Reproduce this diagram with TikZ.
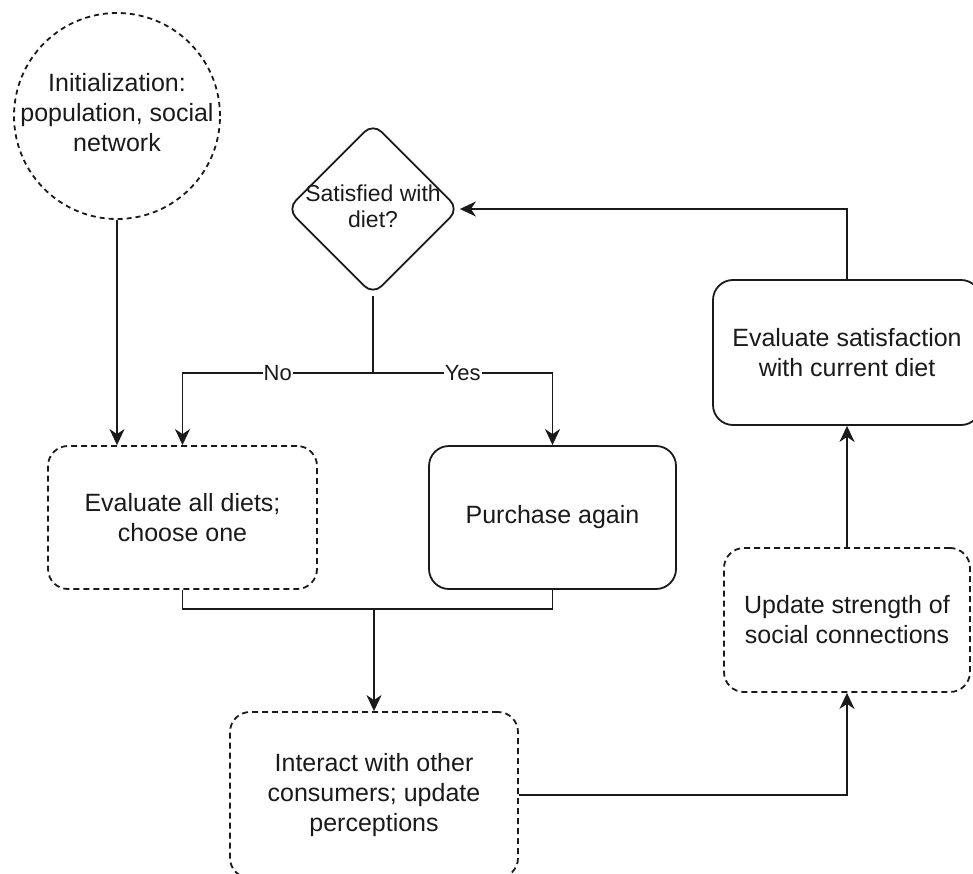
\documentclass[tikz,border=0pt]{standalone}
\usepackage{fontspec}
\setmainfont{Liberation Sans}
\usetikzlibrary{shapes.geometric,arrows.meta}
\definecolor{ink}{RGB}{26,26,26}
\newcommand{\zstack}[1]{\makebox[0pt]{\begin{tabular}{@{}c@{}}#1\end{tabular}}}
\begin{document}
\begin{tikzpicture}[x=1pt,y=-1pt,
  base/.style={draw=ink, line width=1.8pt, text=ink, align=center, inner sep=0pt,
    font=\fontsize{25}{30}\selectfont},
  dashedline/.style={dash pattern=on 6pt off 4pt},
  solidbox/.style={base, rectangle, rounded corners=20pt},
  dashbox/.style={base, dashedline, rectangle, rounded corners=20pt},
  conn/.style={draw=ink, line width=1.8pt},
  arr/.style={conn, -{Stealth[length=16pt,width=15pt,inset=5pt]}},
  lbl/.style={fill=white, text=ink, inner sep=1pt, font=\fontsize{22}{26}\selectfont}
]
\useasboundingbox (0,0) rectangle (973,874);
\clip (0,0) rectangle (973,874);

\node[base, dashedline, dash pattern=on 5pt off 4pt, circle, minimum size=206pt] (init) at (117,116)
  {\zstack{Initialization:\\population, social\\network}};
\node[base, diamond, rounded corners=12pt, minimum width=172pt, minimum height=172pt,
  font=\fontsize{23}{26}\selectfont] (sat) at (373,209)
  {\zstack{Satisfied with\\diet?}};
\node[solidbox, minimum width=268pt, minimum height=145pt] (evalsat) at (847,352.5)
  {Evaluate satisfaction\\with current diet};
\node[dashbox, minimum width=269pt, minimum height=143pt] (evaldiet) at (182.5,517.5)
  {Evaluate all diets;\\choose one};
\node[solidbox, minimum width=247pt, minimum height=143pt] (purchase) at (552.5,517.5)
  {Purchase again};
\node[dashbox, minimum width=246pt, minimum height=144pt] (update) at (847,620)
  {Update strength of\\social connections};
\node[dashbox, minimum width=288pt, minimum height=166pt] (interact) at (374,795)
  {Interact with other\\consumers; update\\perceptions};

\coordinate (split) at (373,373);
\coordinate (merge) at (374,609);

\draw[arr] (init.south) -- (init.south |- evaldiet.north);
\draw[conn] (sat.south) -- (split);
\draw[arr] (split) -| node[lbl, pos=0.25] {No} (evaldiet.north);
\draw[arr] (split) -| node[lbl, pos=0.25] {Yes} (purchase.north);
\draw[conn] (evaldiet.south) |- (merge) -| (purchase.south);
\draw[arr] (merge) -- (interact.north);
\draw[arr] (interact.east) -| (update.south);
\draw[arr] (update.north) -- (evalsat.south);
\draw[arr] (evalsat.north) |- (sat.east);
\end{tikzpicture}
\end{document}
